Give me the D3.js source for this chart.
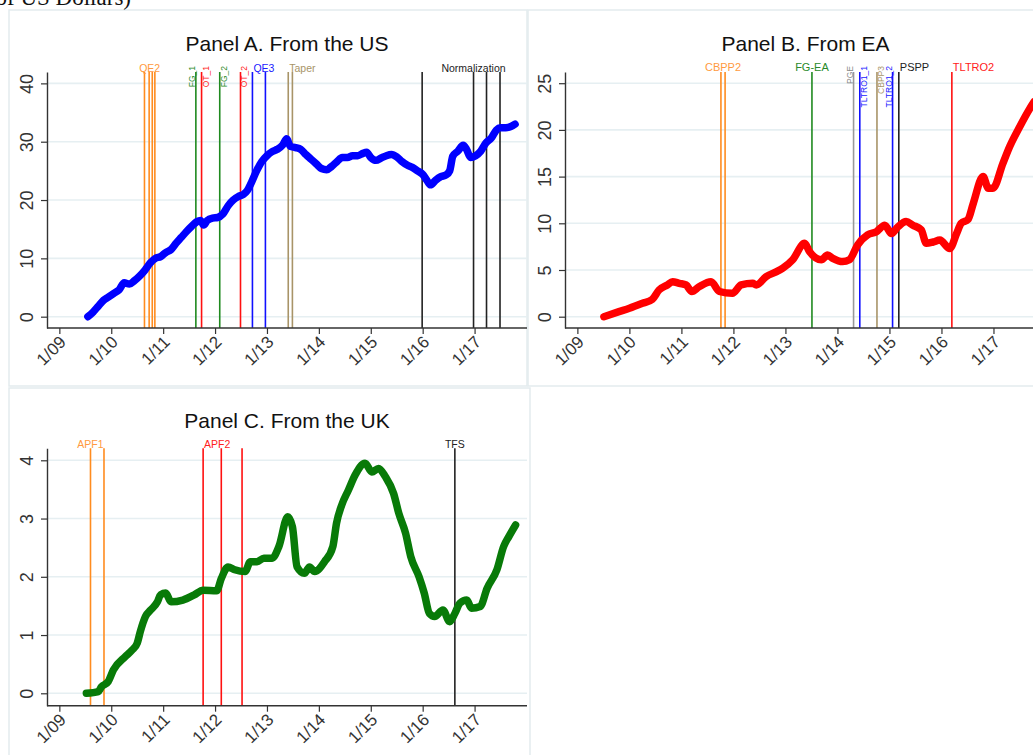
<!DOCTYPE html>
<html><head><meta charset="utf-8">
<script src="https://cdn.jsdelivr.net/npm/d3@7"></script>
<style>body{margin:0;background:#fff}svg{display:block}text{font-family:"Liberation Sans",Arial,sans-serif}</style>
</head><body><svg id="c" width="1033" height="755"></svg>
<script>
// ---------- data ----------
const yearTicks = [2009, 2010, 2011, 2012, 2013, 2014, 2015, 2016, 2017];
const yearTickLabels = ["1/09", "1/10", "1/11", "1/12", "1/13", "1/14", "1/15", "1/16", "1/17"];
const usTicks = [0, 10, 20, 30, 40];
const eaTicks = [0, 5, 10, 15, 20, 25];
const ukTicks = [0, 1, 2, 3, 4];

const usDates = [2009.55,2009.65,2009.75,2009.85,2009.95,2010.05,2010.15,2010.25,2010.35,2010.45,2010.55,2010.65,2010.75,2010.85,2010.95,2011.05,2011.15,2011.25,2011.35,2011.45,2011.55,2011.65,2011.72,2011.78,2011.85,2011.95,2012.05,2012.15,2012.25,2012.35,2012.45,2012.55,2012.62,2012.70,2012.80,2012.90,2013.00,2013.10,2013.20,2013.30,2013.38,2013.45,2013.55,2013.65,2013.75,2013.85,2013.95,2014.05,2014.15,2014.25,2014.35,2014.45,2014.55,2014.65,2014.75,2014.85,2014.92,2015.00,2015.10,2015.20,2015.30,2015.40,2015.50,2015.60,2015.70,2015.80,2015.90,2016.00,2016.08,2016.15,2016.25,2016.35,2016.45,2016.52,2016.58,2016.68,2016.78,2016.85,2016.92,2017.02,2017.12,2017.22,2017.32,2017.42,2017.50,2017.60,2017.70,2017.78];
const usValues = [0.0,0.8,1.8,2.8,3.4,4.0,4.6,5.8,5.6,6.2,7.0,8.0,9.2,10.0,10.3,11.0,11.5,12.6,13.6,14.6,15.5,16.3,16.5,15.7,16.5,16.9,17.0,17.6,19.0,20.0,20.6,21.0,21.6,23.0,25.0,26.6,27.6,28.3,28.7,29.4,30.5,29.2,29.0,28.7,27.8,27.0,26.2,25.4,25.2,25.8,26.6,27.3,27.3,27.6,27.6,28.0,28.2,27.3,26.8,27.2,27.6,27.8,27.4,26.6,26.0,25.6,25.0,24.4,23.4,22.6,23.4,24.0,24.3,25.0,27.5,28.4,29.4,28.6,27.3,27.6,28.4,29.8,30.6,32.0,32.4,32.4,32.6,33.0];

const eaDates = [2009.51,2009.80,2010.00,2010.25,2010.44,2010.57,2010.73,2010.83,2010.96,2011.09,2011.20,2011.34,2011.57,2011.73,2011.98,2012.15,2012.37,2012.44,2012.63,2012.82,2012.95,2013.14,2013.37,2013.46,2013.69,2013.81,2013.91,2014.10,2014.23,2014.39,2014.58,2014.75,2014.91,2015.04,2015.16,2015.32,2015.45,2015.61,2015.71,2015.84,2015.97,2016.16,2016.29,2016.38,2016.51,2016.61,2016.80,2016.90,2016.99,2017.18,2017.31,2017.51,2017.70,2017.78];
const eaValues = [0.0,0.54,0.9,1.43,1.86,2.86,3.4,3.75,3.57,3.4,2.7,3.2,3.75,2.7,2.5,3.4,3.57,3.4,4.3,4.8,5.2,6.1,7.86,7.0,6.1,6.6,6.25,5.9,6.1,7.7,8.75,9.1,9.8,8.9,9.6,10.2,9.8,9.3,7.86,8.0,8.2,7.3,8.9,10.0,10.4,12.1,15.0,13.75,13.75,16.4,18.2,20.4,22.3,23.0];

const ukDates = [2009.52,2009.75,2009.81,2009.94,2010.04,2010.27,2010.40,2010.50,2010.56,2010.66,2010.76,2010.89,2010.95,2011.05,2011.15,2011.38,2011.60,2011.77,2012.03,2012.12,2012.25,2012.38,2012.58,2012.68,2012.81,2012.94,2013.10,2013.23,2013.40,2013.49,2013.58,2013.72,2013.82,2013.92,2014.11,2014.27,2014.34,2014.44,2014.57,2014.70,2014.89,2015.02,2015.15,2015.28,2015.44,2015.54,2015.67,2015.77,2015.93,2016.03,2016.13,2016.23,2016.39,2016.52,2016.62,2016.72,2016.85,2016.94,2017.11,2017.24,2017.43,2017.56,2017.66,2017.79];
const ukValues = [0.0,0.03,0.11,0.2,0.4,0.63,0.74,0.86,1.06,1.32,1.43,1.57,1.69,1.72,1.57,1.6,1.69,1.77,1.76,1.97,2.17,2.12,2.09,2.26,2.26,2.32,2.32,2.52,3.03,2.86,2.17,2.06,2.17,2.09,2.26,2.52,2.92,3.23,3.49,3.75,3.95,3.80,3.86,3.72,3.43,3.09,2.75,2.35,2.0,1.72,1.37,1.32,1.43,1.23,1.37,1.55,1.6,1.46,1.49,1.80,2.12,2.52,2.69,2.89];

// policy events: names, dates (one or more lines), colour kind
const usEventNames = ["QE2", "FG_1", "OT_1", "FG_2", "OT_2", "QE3", "Taper", "Normalization"];
const usEventDates = [[2010.64,2010.73,2010.79,2010.84],[2011.63],[2011.74],[2012.09],[2012.49],[2012.72,2012.97],[2013.41,2013.49],[2015.99,2016.98,2017.23,2017.49]];
const usEventKinds = ["orange","green","red","green","red","blue","tan","black"];

const eaEventNames = ["CBPP2", "FG-EA", "PGE", "TLTRO1_1", "CBPP3", "TLTRO1_2", "PSPP", "TLTRO2"];
const eaEventDates = [[2011.76,2011.84],[2013.51],[2014.31],[2014.43],[2014.76],[2015.06],[2015.18],[2016.20]];
const eaEventKinds = ["orange","green","gray","blue","tan","blue","black","red"];

const ukEventNames = ["APF1", "APF2", "TFS"];
const ukEventDates = [[2009.60,2009.86],[2011.77,2012.12,2012.52],[2016.62]];
const ukEventKinds = ["orange","red","black"];

// ---------- styling / layout ----------
const kindColor = {orange:"#ff8c1f", green:"#1f8a1f", red:"#ff1010", blue:"#1010ff", tan:"#a89468", black:"#222222", gray:"#9a9a9a"};
const labelColor = {orange:"#ff9a40", green:"#2a8a2a", red:"#ff2020", blue:"#2020ff", tan:"#a89468", black:"#222222", gray:"#8a8a8a"};
const usLabelMode = [["mid"],["rot",-1],["rot",1],["rot",1],["rot",1],["start"],["start"],["at",1]];
const eaLabelMode = [["mid"],["mid"],["rot",-1],["rot",1],["rot",1],["rot",-1],["start"],["start"]];
const ukLabelMode = [["first"],["start"],["mid"]];

const svg = d3.select("#c");

const frames = [[9,10,518,376],[528,10,520,376],[9,388,521,380]];
svg.selectAll("rect.frame").data(frames).enter().append("rect")
  .attr("x", d=>d[0]).attr("y", d=>d[1]).attr("width", d=>d[2]).attr("height", d=>d[3])
  .attr("fill","none").attr("stroke","#e3ebee").attr("stroke-width",1.5);

// clipped header text (only its lower part is visible in the source)
svg.append("text").attr("x",131).attr("y",5).attr("text-anchor","end")
  .style("font-family","'Liberation Serif','Times New Roman',serif").style("font-size","23px").attr("fill","#111")
  .text("(Billions of US Dollars)");

function drawPanel(p) {
  const g = svg.append("g");
  const x = d3.scaleLinear().domain([2008.762, 2018.01]).range([p.left, p.right]);
  const y = d3.scaleLinear().domain(p.yDomain).range([p.bottom, p.top]);

  g.selectAll("line.grid").data(p.ticks).enter().append("line")
    .attr("x1", p.left).attr("x2", p.right).attr("y1", d=>y(d)).attr("y2", d=>y(d))
    .attr("stroke","#e6eff2").attr("stroke-width",1.6);

  g.append("text").attr("x",(p.left+p.right)/2).attr("y",p.titleY).attr("text-anchor","middle")
    .style("font-size","21px").attr("fill","#111").text(p.title);

  p.eventDates.forEach((ds,i)=>{
    const col = kindColor[p.eventKinds[i]];
    g.selectAll(null).data(ds).enter().append("line")
      .attr("x1", d=>x(d)).attr("x2", d=>x(d)).attr("y1", p.top).attr("y2", p.bottom)
      .attr("stroke", col).attr("stroke-width",1.6);
    const mode = p.labelMode[i];
    const lc = labelColor[p.eventKinds[i]];
    if (mode[0]==="rot") {
      const cx = x(ds[0]) + mode[1]*4;
      g.append("text").attr("transform",`translate(${cx+3},${p.top-6}) rotate(-90)`)
        .attr("text-anchor","end").style("font-size","8.5px").attr("fill",lc).text(p.eventNames[i]);
    } else {
      let lx, anchor="middle";
      if (mode[0]==="mid") lx = (x(ds[0])+x(ds[ds.length-1]))/2;
      else if (mode[0]==="first") lx = x(ds[0]);
      else if (mode[0]==="at") lx = x(ds[mode[1]]);
      else { lx = x(ds[0])+1; anchor="start"; }
      g.append("text").attr("x",lx).attr("y",p.labelY).attr("text-anchor",anchor)
        .style("font-size",p.labelSize+"px").attr("fill",lc).text(p.eventNames[i]);
    }
  });

  const pts = p.dates.map((d,i)=>[d,p.values[i]]);
  g.append("path").datum(pts)
    .attr("d", d3.line().x(d=>x(d[0])).y(d=>y(d[1])).curve(d3.curveMonotoneX))
    .attr("fill","none").attr("stroke",p.color).attr("stroke-width",7.5)
    .attr("stroke-linejoin","round").attr("stroke-linecap","round");

  const yAxis = d3.axisLeft(y).tickValues(p.ticks).tickSize(6).tickSizeOuter(0).tickFormat(d3.format("d"));
  const ya = g.append("g").attr("transform",`translate(${p.left},0)`).call(yAxis);
  ya.select(".domain").attr("stroke","#333").attr("stroke-width",1.4);
  ya.selectAll(".tick line").attr("stroke","#333").attr("stroke-width",1.2);
  ya.selectAll(".tick text").attr("x",null).attr("dy",null)
    .attr("transform","translate(-14,0) rotate(-90)").attr("text-anchor","middle")
    .style("font-size","18px").attr("fill","#333").style("font-family","'Liberation Sans',Arial,sans-serif");

  const xAxis = d3.axisBottom(x).tickValues(yearTicks).tickSize(6).tickSizeOuter(0)
    .tickFormat((d,i)=>yearTickLabels[i]);
  const xa = g.append("g").attr("transform",`translate(0,${p.bottom})`).call(xAxis);
  xa.select(".domain").attr("stroke","#333").attr("stroke-width",1.4);
  xa.selectAll(".tick line").attr("stroke","#333").attr("stroke-width",1.2);
  xa.selectAll(".tick text").attr("y",null).attr("dy",null)
    .attr("transform","translate(4,12) rotate(-45)").attr("text-anchor","end").attr("dominant-baseline","middle")
    .style("font-size","17px").attr("fill","#333").style("font-family","'Liberation Sans',Arial,sans-serif");
  xa.select(".domain").attr("d",`M${p.left},0H${p.right}`);
}

drawPanel({title:"Panel A. From the US", left:47, right:527, top:72, bottom:328, yDomain:[-1.94,41.95],
  ticks:usTicks, dates:usDates, values:usValues, color:"#0000ff", titleY:51, labelY:71.5, labelSize:10.5,
  eventNames:usEventNames, eventDates:usEventDates, eventKinds:usEventKinds, labelMode:usLabelMode});
drawPanel({title:"Panel B. From EA", left:565, right:1046, top:72, bottom:328, yDomain:[-1.21,26.2],
  ticks:eaTicks, dates:eaDates, values:eaValues, color:"#ff0000", titleY:51, labelY:70.5, labelSize:11,
  eventNames:eaEventNames, eventDates:eaEventDates, eventKinds:eaEventKinds, labelMode:eaLabelMode});
drawPanel({title:"Panel C. From the UK", left:47, right:527, top:448.3, bottom:705.7, yDomain:[-0.213,4.206],
  ticks:ukTicks, dates:ukDates, values:ukValues, color:"#087a08", titleY:428, labelY:447.5, labelSize:10.5,
  eventNames:ukEventNames, eventDates:ukEventDates, eventKinds:ukEventKinds, labelMode:ukLabelMode});
</script></body></html>
